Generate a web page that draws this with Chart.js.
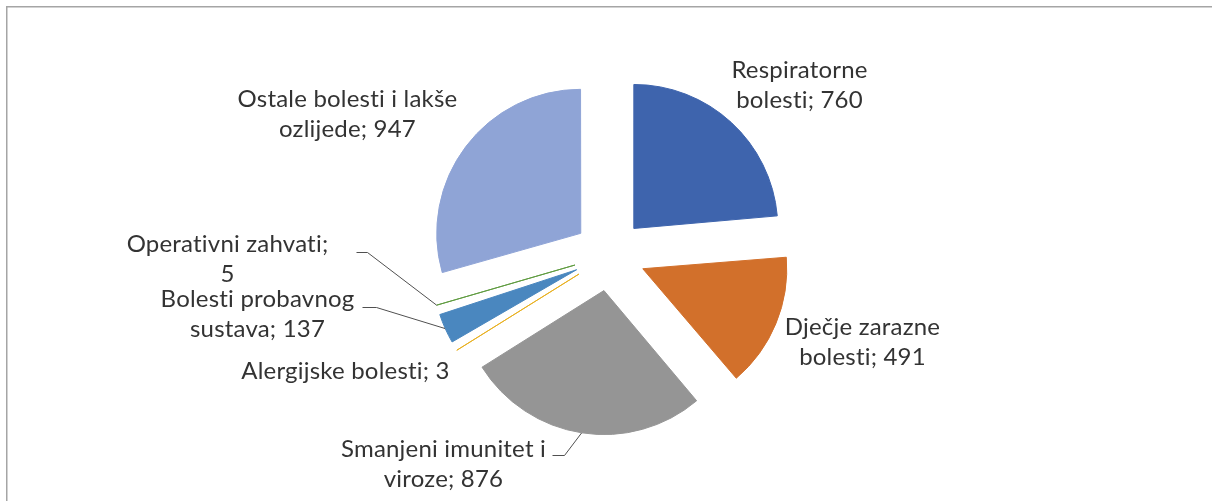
<!DOCTYPE html>
<html>
<head>
<meta charset="utf-8">
<script src="https://cdn.jsdelivr.net/npm/chart.js@4.4.0/dist/chart.umd.min.js"></script>
<style>
    html, body { margin: 0; padding: 0; background: #ffffff; }
    #wrap { width: 1212px; height: 501px; }
</style>
</head>
<body>
<div id="wrap"><canvas id="myChart" width="1212" height="501"></canvas></div>
<script>
// Podaci (čitano sa slike)
var categories = [
    'Respiratorne bolesti',
    'Dječje zarazne bolesti',
    'Smanjeni imunitet i viroze',
    'Alergijske bolesti',
    'Bolesti probavnog sustava',
    'Operativni zahvati',
    'Ostale bolesti i lakše ozlijede'
];
var values = [760, 491, 876, 3, 137, 5, 947];
// koliko riječi ide u prvi red natpisa (0 = sve u jednom redu)
var labelBreaks = [1, 2, 3, 0, 2, 2, 4];

var colors = ['#3e64ad', '#d2702b', '#959595', '#e8b020', '#4a87bf', '#5f9b40', '#8fa4d6'];

// izgled
var pieRadius = 144;
var explodePx = 36;
var labelFont = '24px Lato';
var lineHeight = 30;
var textColor = '#333333';

// položaj natpisa u odnosu na središte pite: [dx, dy prve osnovne linije]
var labelPos = [
    [190, -177],
    [253, 80],
    [-166, 202],
    [-264, 124],
    [-352, 52],
    [-382, -3],
    [-262, -148]
];
// linije vodilice: [x početka, x lakta, y] u odnosu na središte
var leaders = [null, null, [-57, -45, 200], null, [-247, -233, 52], [-253, -242, -3], null];

function labelLines(i) {
    var words = (categories[i] + '; ' + values[i]).split(' ');
    var n = labelBreaks[i];
    if (!n) return [words.join(' ')];
    return [words.slice(0, n).join(' '), words.slice(n).join(' ')];
}

// Chart.js povećava radijus uskih isječaka kad imaju offset, ovdje to vraćamo
var fixRadius = {
    id: 'fixRadius',
    afterDatasetUpdate: function(chart, args) {
        var meta = chart.getDatasetMeta(args.index);
        meta.data.forEach(function(arc) {
            var circ = arc.endAngle - arc.startAngle;
            var fix = 1 - Math.sin(Math.min(Math.PI, circ));
            arc.outerRadius = pieRadius - explodePx * fix;
        });
    }
};

var frame = {
    id: 'frame',
    beforeDraw: function(chart) {
        var ctx = chart.ctx;
        ctx.save();
        ctx.strokeStyle = '#a5a5a5';
        ctx.lineWidth = 1.5;
        ctx.beginPath();
        ctx.moveTo(6.75, chart.height);
        ctx.lineTo(6.75, 6.75);
        ctx.lineTo(chart.width, 6.75);
        ctx.stroke();
        ctx.restore();
    }
};

var pieLabels = {
    id: 'pieLabels',
    afterDatasetsDraw: function(chart) {
        var ctx = chart.ctx;
        var meta = chart.getDatasetMeta(0);
        ctx.save();
        ctx.font = labelFont;
        ctx.letterSpacing = '0.2px'; // bez "ti" ligature
        ctx.fillStyle = textColor;
        ctx.textAlign = 'center';
        ctx.textBaseline = 'alphabetic';
        ctx.strokeStyle = '#505050';
        ctx.lineWidth = 1;
        meta.data.forEach(function(arc, i) {
            var cx = arc.x, cy = arc.y;
            var ld = leaders[i];
            if (ld) {
                var mid = (arc.startAngle + arc.endAngle) / 2;
                var r = explodePx + pieRadius;
                ctx.beginPath();
                ctx.moveTo(cx + ld[0], cy + ld[2] + 0.5);
                ctx.lineTo(cx + ld[1], cy + ld[2] + 0.5);
                ctx.lineTo(cx + Math.cos(mid) * r, cy + Math.sin(mid) * r);
                ctx.stroke();
            }
            labelLines(i).forEach(function(t, k) {
                ctx.fillText(t, cx + labelPos[i][0], cy + labelPos[i][1] + k * lineHeight);
            });
        });
        ctx.restore();
    }
};

function createChart() {
    var ctx = document.getElementById('myChart').getContext('2d');
    var myChart = new Chart(ctx, {
        type: 'pie',
        data: {
            labels: categories,
            datasets: [{
                data: values,
                backgroundColor: colors,
                borderColor: colors,
                borderWidth: 1,
                offset: explodePx * 4 // arc dijeli offset s 4
            }]
        },
        options: {
            responsive: false,
            devicePixelRatio: 1,
            animation: false,
            radius: pieRadius,
            layout: { padding: { left: 107, right: 100, top: 80, bottom: 71 } },
            plugins: {
                legend: { display: false },
                tooltip: { enabled: false }
            }
        },
        plugins: [fixRadius, frame, pieLabels]
    });
}

createChart();
</script>
</body>
</html>
